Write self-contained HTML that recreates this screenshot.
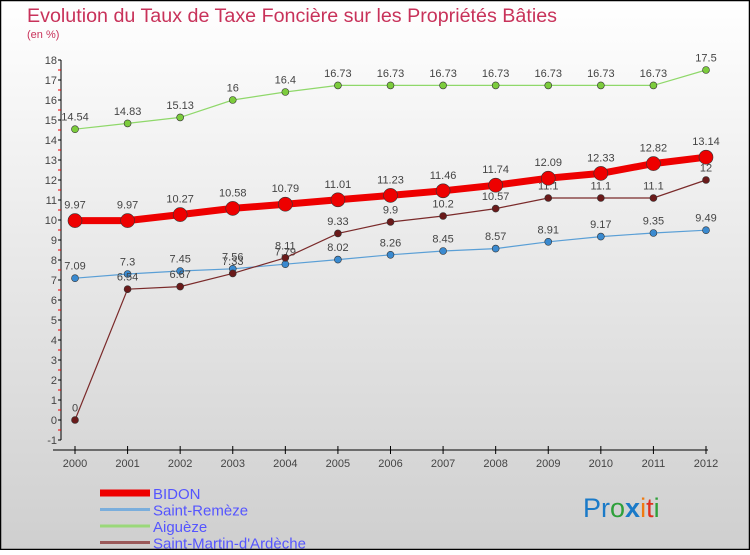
<!DOCTYPE html>
<html><head><meta charset="utf-8"><style>
body{margin:0;width:750px;height:550px;overflow:hidden;font-family:"Liberation Sans",sans-serif}
svg text{font-family:"Liberation Sans",sans-serif}
</style></head><body>
<svg id="c" width="750" height="550" xmlns="http://www.w3.org/2000/svg">
<defs><linearGradient id="bg" x1="0" y1="0" x2="0" y2="1"><stop offset="0" stop-color="#ffffff"/><stop offset="1" stop-color="#cfcfcf"/></linearGradient></defs>
<rect x="0.5" y="0.5" width="749" height="549" fill="url(#bg)" stroke="#000" stroke-width="1.5"/>
<text x="27" y="22" font-size="19" fill="#c8325a" textLength="530" lengthAdjust="spacingAndGlyphs">Evolution du Taux de Taxe Foncière sur les Propriétés Bâties</text>
<text x="27" y="38" font-size="11" fill="#c8325a">(en %)</text>
<g id="axes"></g><g id="series"></g><g id="legend"></g>
<text x="583" y="517" font-size="27" font-family="'DejaVu Sans',sans-serif"><tspan fill="#1a7ac8">Pr</tspan><tspan fill="#2ea03a">o</tspan><tspan fill="#1a7ac8" font-weight="bold">x</tspan><tspan fill="#f07a10">i</tspan><tspan fill="#e03020">t</tspan><tspan fill="#2ea03a">i</tspan></text>
</svg>
<script>
const years=[2000,2001,2002,2003,2004,2005,2006,2007,2008,2009,2010,2011,2012];
const yTicks=[-1,0,1,2,3,4,5,6,7,8,9,10,11,12,13,14,15,16,17,18];
const bidon=[9.97,9.97,10.27,10.58,10.79,11.01,11.23,11.46,11.74,12.09,12.33,12.82,13.14];
const remeze=[7.09,7.3,7.45,7.56,7.79,8.02,8.26,8.45,8.57,8.91,9.17,9.35,9.49];
const aigueze=[14.54,14.83,15.13,16,16.4,16.73,16.73,16.73,16.73,16.73,16.73,16.73,17.5];
const martin=[0,6.54,6.67,7.33,8.11,9.33,9.9,10.2,10.57,11.1,11.1,11.1,12];
const names=["BIDON","Saint-Remèze","Aiguèze","Saint-Martin-d'Ardèche"];
const NS="http://www.w3.org/2000/svg";
const xS=i=>75+i*(706-75)/(years.length-1);
const yS=v=>420-v*20;
function mk(t,a,p){const e=document.createElementNS(NS,t);for(const k in a)e.setAttribute(k,a[k]);p.appendChild(e);return e;}
const ax=document.getElementById('axes');
let l=mk('line',{x1:61,y1:yS(18),x2:61,y2:yS(-1),stroke:'#000','stroke-width':1},ax);


yTicks.forEach(v=>{
 const t=mk('line',{x1:58,x2:61,y1:yS(v),y2:yS(v),stroke:'#000'},ax);
 
 
 if(v<18){const m=mk('line',{x1:58,x2:61,y1:yS(v+0.5),y2:yS(v+0.5),stroke:'#e00'},ax);
 
 }
 const tx=mk('text',{x:57,y:yS(v)+4,'font-size':11,fill:'#444','text-anchor':'end'},ax);tx.textContent=v;
 
 
});
l=mk('line',{x1:53,y1:450,x2:708,y2:450,stroke:'#000'},ax);


years.forEach((y,i)=>{
 const t=mk('line',{x1:xS(i),x2:xS(i),y1:446,y2:454,stroke:'#000'},ax);
 
 
 const tx=mk('text',{x:xS(i),y:467,'font-size':11,fill:'#444','text-anchor':'middle'},ax);tx.textContent=y;
 
 
});
const sg=document.getElementById('series');
function series(vals,color,dot,w,r,name){
 const g=mk('g',{},sg);
 
 
 const p=mk('polyline',{points:vals.map((v,i)=>xS(i)+','+yS(v)).join(' '),fill:'none',stroke:color,'stroke-width':w},g);
 
 
 vals.forEach((v,i)=>{
  const c=mk('circle',{cx:xS(i),cy:yS(v),r:r,fill:dot,stroke:'#333','stroke-width':0.6},g);
  
  
  const t=mk('text',{x:xS(i),y:yS(v)-r-5,'font-size':11,fill:'#444','text-anchor':'middle'},g);t.textContent=v;
  
  
 });
}
series(aigueze,'#8fd86a','#7ccc3c',1.2,3.5,'aigueze');
series(remeze,'#5a9fd6','#3a8ad0',1.2,3.5,'saint-remeze');
series(martin,'#7a2a2a','#6a1a1a',1.2,3.5,'saint-martin');
series(bidon,'#ee0000','#ee0000',7,7,'bidon');
const lg=document.getElementById('legend');
const lc=['#ee0000','#7aaedc','#9ad87a','#9a5a5a'],lw=[7,3,3,3];
names.forEach((n,i)=>{
 const y=493+i*16.5;
 const s=mk('line',{x1:100,x2:150,y1:y,y2:y,stroke:lc[i],'stroke-width':lw[i]},lg);
 
 
 const t=mk('text',{x:153,y:y+6,'font-size':15,fill:'#5555ff'},lg);t.textContent=n;
 
 
});
</script>
</body></html>
